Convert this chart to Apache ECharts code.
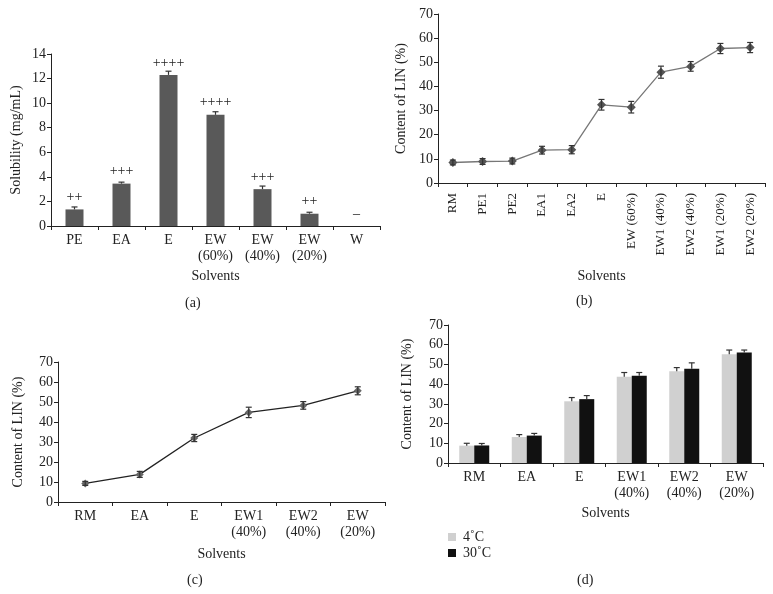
<!DOCTYPE html>
<html><head><meta charset="utf-8">
<script src="https://cdn.jsdelivr.net/npm/echarts@6/dist/echarts.min.js"></script>
<style>html,body{margin:0;padding:0;background:#fff}#c{width:773px;height:594px}</style>
</head><body><div id="c"></div>
<script>
// Panel (a)
const aCats = ['PE','EA','E','EW\n(60%)','EW\n(40%)','EW\n(20%)','W'];
const aVals = [1.35,3.45,12.3,9.05,3.0,1.0,0];
const aErr = [0.2,0.12,0.3,0.25,0.25,0.12,0];
const aMarks = ['++','+++','++++','++++','+++','++','–'];
// Panel (b)
const bCats = ['RM','PE1','PE2','EA1','EA2','E','EW (60%)','EW1 (40%)','EW2 (40%)','EW1 (20%)','EW2 (20%)'];
const bVals = [8.5,8.9,9.1,13.6,13.8,32.4,31.4,45.9,48.3,55.7,56.1];
const bErr = [1.0,1.2,1.2,1.6,1.7,2.2,2.4,2.5,2.0,2.1,2.1];
// Panel (c)
const cCats = ['RM','EA','E','EW1\n(40%)','EW2\n(40%)','EW\n(20%)'];
const cVals = [9.3,13.8,32.0,44.8,48.3,55.6];
const cErr = [1.0,1.5,1.8,2.6,1.9,2.0];
// Panel (d)
const dCats = ['RM','EA','E','EW1\n(40%)','EW2\n(40%)','EW\n(20%)'];
const d4 = [8.8,13.2,31.3,43.7,46.5,55.1];
const d30 = [8.9,13.9,32.4,44.3,47.8,56.1];
const d4Err = [1.2,1.2,1.9,2.2,1.9,2.2];
const d30Err = [1.0,1.1,1.8,1.6,3.0,1.2];
const dNames = ['4˚C','30˚C'];

const FONT = 'Liberation Serif';
const TXT = '#222';

function errSeries(xi, yi, vals, errs, offset, cap, both, color){
  return {
    type:'custom', xAxisIndex:xi, yAxisIndex:yi, z:10,
    data: vals.map((v,i)=>[i,v,errs[i]]),
    encode:{x:0,y:1},
    renderItem:function(params, api){
      const i = api.value(0), v = api.value(1), e = api.value(2);
      if(!e) return;
      const hi = api.coord([i, v+e]);
      const lo = api.coord([i, both ? v-e : v]);
      const x = hi[0] + offset;
      const st = {stroke:color, lineWidth:1.2};
      const ch = [
        {type:'line', shape:{x1:x,y1:hi[1],x2:x,y2:lo[1]}, style:st},
        {type:'line', shape:{x1:x-cap,y1:hi[1],x2:x+cap,y2:hi[1]}, style:st}
      ];
      if(both) ch.push({type:'line', shape:{x1:x-cap,y1:lo[1],x2:x+cap,y2:lo[1]}, style:st});
      return {type:'group', children:ch};
    }
  };
}

function yAx(gi, max, interval, name, gap){
  return {type:'value', gridIndex:gi, min:0, max:max, interval:interval,
    splitLine:{show:false},
    axisLine:{show:true, lineStyle:{color:'#222', width:1}},
    axisTick:{show:true, length:4, lineStyle:{color:'#222'}},
    axisLabel:{fontFamily:FONT, fontSize:14, color:TXT, margin:5},
    name:name, nameLocation:'middle', nameRotate:90, nameGap:gap,
    nameTextStyle:{fontFamily:FONT, fontSize:14, color:TXT}};
}
function xAx(gi, cats, gap, extra){
  return Object.assign({type:'category', gridIndex:gi, data:cats,
    axisLine:{show:true, lineStyle:{color:'#222', width:1}},
    axisTick:{show:true, length:4, lineStyle:{color:'#222'}},
    axisLabel:{fontFamily:FONT, fontSize:14, color:TXT, margin:6, lineHeight:16, interval:0},
    name:'Solvents', nameLocation:'middle', nameGap:gap,
    nameTextStyle:{fontFamily:FONT, fontSize:14, color:TXT}}, extra||{});
}

const option = {
  animation:false,
  backgroundColor:'#fff',
  textStyle:{fontFamily:FONT},
  grid:[
    {left:51, top:54, width:329, height:172},
    {left:438, top:14, width:327, height:169},
    {left:58, top:362, width:327, height:140},
    {left:448, top:325, width:315, height:138}
  ],
  xAxis:[
    xAx(0, aCats, 43),
    xAx(1, bCats, 86, {axisLabel:{fontFamily:FONT, fontSize:13, color:TXT, margin:10, rotate:90, interval:0}}),
    xAx(2, cCats, 45),
    xAx(3, dCats, 43)
  ],
  yAxis:[
    yAx(0, 14, 2, 'Solubility (mg/mL)', 28),
    yAx(1, 70, 10, 'Content of LIN (%)', 30),
    yAx(2, 70, 10, 'Content of LIN (%)', 33),
    yAx(3, 70, 10, 'Content of LIN (%)', 34)
  ],
  legend:{
    orient:'vertical', left:448, top:530, padding:0, itemWidth:8, itemHeight:8, itemGap:2,
    icon:'rect', data:dNames,
    textStyle:{fontFamily:FONT, fontSize:14, color:TXT, padding:[0,0,0,2]}
  },
  graphic:[
    {type:'text', left:185, top:296, style:{text:'(a)', font:'14px "Liberation Serif"', fill:TXT}},
    {type:'text', left:576, top:294, style:{text:'(b)', font:'14px "Liberation Serif"', fill:TXT}},
    {type:'text', left:187, top:573, style:{text:'(c)', font:'14px "Liberation Serif"', fill:TXT}},
    {type:'text', left:577, top:573, style:{text:'(d)', font:'14px "Liberation Serif"', fill:TXT}}
  ],
  series:[
    {type:'bar', xAxisIndex:0, yAxisIndex:0, data:aVals, barWidth:18,
      itemStyle:{color:'#595959'},
      label:{show:true, position:'top', distance:5, fontFamily:FONT, fontSize:14, color:TXT,
        formatter:p=>aMarks[p.dataIndex]}},
    errSeries(0,0,aVals,aErr,0,3,false,'#333'),
    {type:'line', xAxisIndex:1, yAxisIndex:1, data:bVals,
      lineStyle:{color:'#777', width:1.3}, symbol:'diamond', symbolSize:9,
      itemStyle:{color:'#555'}},
    errSeries(1,1,bVals,bErr,0,3,true,'#333'),
    {type:'line', xAxisIndex:2, yAxisIndex:2, data:cVals,
      lineStyle:{color:'#222', width:1.3}, symbol:'diamond', symbolSize:8,
      itemStyle:{color:'#666'}},
    errSeries(2,2,cVals,cErr,0,3,true,'#333'),
    {type:'bar', name:dNames[0], xAxisIndex:3, yAxisIndex:3, data:d4, barWidth:15, barGap:'0%',
      itemStyle:{color:'#d0d0d0'}},
    {type:'bar', name:dNames[1], xAxisIndex:3, yAxisIndex:3, data:d30, barWidth:15, barGap:'0%',
      itemStyle:{color:'#111'}},
    errSeries(3,3,d4,d4Err,-7.5,3,false,'#333'),
    errSeries(3,3,d30,d30Err,7.5,3,false,'#333')
  ]
};
echarts.init(document.getElementById('c'), null, {renderer:'canvas'}).setOption(option);
</script></body></html>
